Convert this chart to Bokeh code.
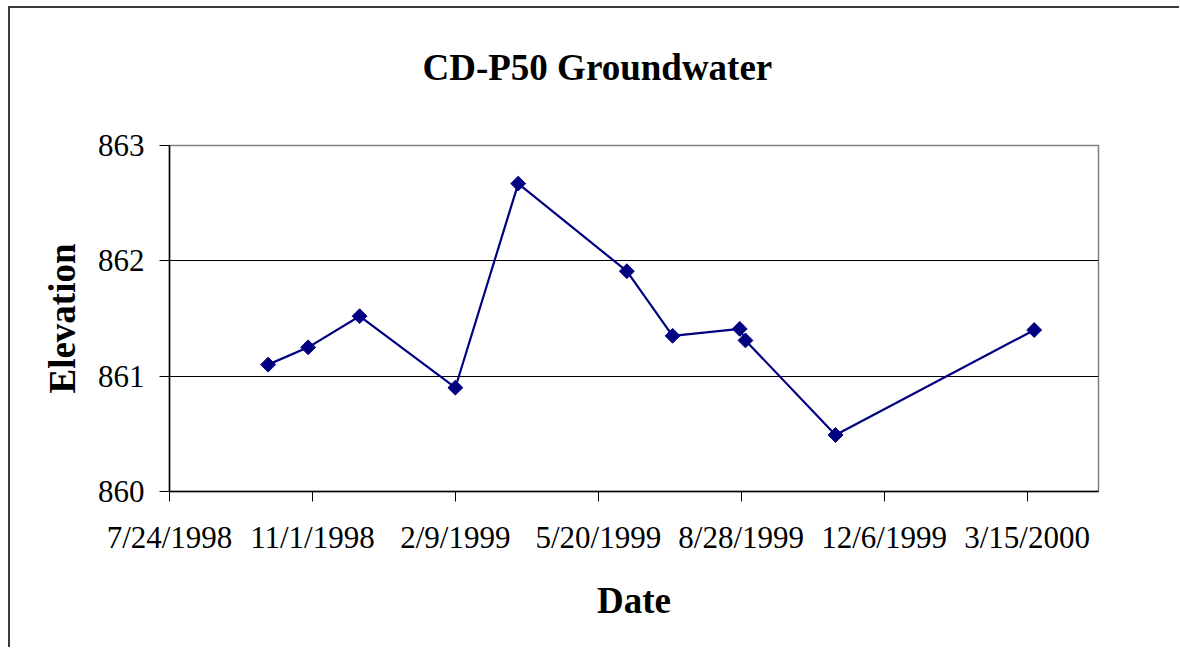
import numpy as np
import pandas as pd
from bokeh.plotting import figure
from bokeh.models import FixedTicker, CustomJSTickFormatter, Range1d, Title
from bokeh.embed import file_html
from bokeh.resources import INLINE

# ---- data ----
dates = ["10/1/1998", "10/29/1998", "12/4/1998", "2/9/1999", "3/25/1999",
         "6/9/1999", "7/11/1999", "8/27/1999", "8/31/1999", "11/2/1999", "3/20/2000"]
elevation = [861.10, 861.25, 861.52, 860.90, 862.67,
             861.91, 861.35, 861.41, 861.31, 860.49, 861.40]
x_tick_labels = ["7/24/1998", "11/1/1998", "2/9/1999", "5/20/1999",
                 "8/28/1999", "12/6/1999", "3/15/2000"]
y_ticks = [860, 861, 862, 863]
y_grid = [861, 862]
x_start, x_end = "7/24/1998", "5/4/2000"
y_start, y_end = 860, 863

title_text = "CD-P50 Groundwater"
x_label = "Date"
y_label = "Elevation"

FONT = "Liberation Serif"

x = pd.to_datetime(dates, format="%m/%d/%Y")
tick_ms = [int(pd.Timestamp(pd.to_datetime(t, format="%m/%d/%Y")).value // 10**6)
           for t in x_tick_labels]
xs = pd.to_datetime(x_start, format="%m/%d/%Y")
xe = pd.to_datetime(x_end, format="%m/%d/%Y")

FRAME_L, FRAME_T, FRAME_W, FRAME_H = 159, 137, 929, 346
CANVAS_W, CANVAS_H = 1169, 639

p = figure(x_axis_type="datetime", title=None,
           frame_width=FRAME_W, frame_height=FRAME_H,
           min_border_left=FRAME_L, min_border_top=FRAME_T,
           min_border_right=CANVAS_W - FRAME_L - FRAME_W,
           min_border_bottom=CANVAS_H - FRAME_T - FRAME_H,
           x_range=Range1d(xs, xe),
           y_range=Range1d(y_start, y_end),
           output_backend="svg", toolbar_location=None)

p.styles = {"border-left": "2px solid #3a3a3a", "border-top": "2px solid #3a3a3a",
            "margin-left": "8px", "margin-top": "6px"}

# white (invisible) spacer panel between the plot area and the chart title
p.add_layout(Title(text=".", text_font=FONT, text_font_size="37px",
                   text_color="white", standoff=31), "above")
# chart title (outer panel above)
p.add_layout(Title(text=title_text, text_font=FONT, text_font_size="37px",
                   text_font_style="bold", text_color="black",
                   align="left", offset=253, standoff=0), "above")

p.outline_line_color = "#808080"
p.outline_line_width = 1.5

p.xgrid.visible = False
p.ygrid.ticker = FixedTicker(ticks=y_grid)
p.ygrid.grid_line_color = "black"
p.ygrid.grid_line_width = 1

p.xaxis.ticker = FixedTicker(ticks=tick_ms)
p.xaxis.formatter = CustomJSTickFormatter(code="""
const d = new Date(tick);
return (d.getUTCMonth() + 1) + "/" + d.getUTCDate() + "/" + d.getUTCFullYear();
""")
p.yaxis.ticker = FixedTicker(ticks=y_ticks)

for ax in (p.xaxis, p.yaxis):
    ax.axis_line_color = "black"
    ax.axis_line_width = 1.5
    ax.major_tick_line_color = "black"
    ax.major_tick_out = 10
    ax.major_tick_in = 0
    ax.minor_tick_line_color = None
    ax.major_label_text_font = FONT
    ax.major_label_text_font_size = "31px"
    ax.major_label_text_color = "black"
    ax.axis_label_text_font = FONT
    ax.axis_label_text_font_size = "37px"
    ax.axis_label_text_font_style = "bold"
    ax.axis_label_text_color = "black"

p.xaxis.axis_label = x_label
p.yaxis.axis_label = y_label
p.xaxis.major_label_standoff = 18
p.xaxis.axis_label_standoff = 22
p.yaxis.major_label_standoff = 15
p.yaxis.axis_label_standoff = 12

p.line(x, elevation, line_color="#000080", line_width=2.2)
p.scatter(x, elevation, marker="square", angle=np.pi / 4, size=10.5,
          fill_color="#000080", line_color="#000080")

open("out.html", "w").write(file_html(p, INLINE))
